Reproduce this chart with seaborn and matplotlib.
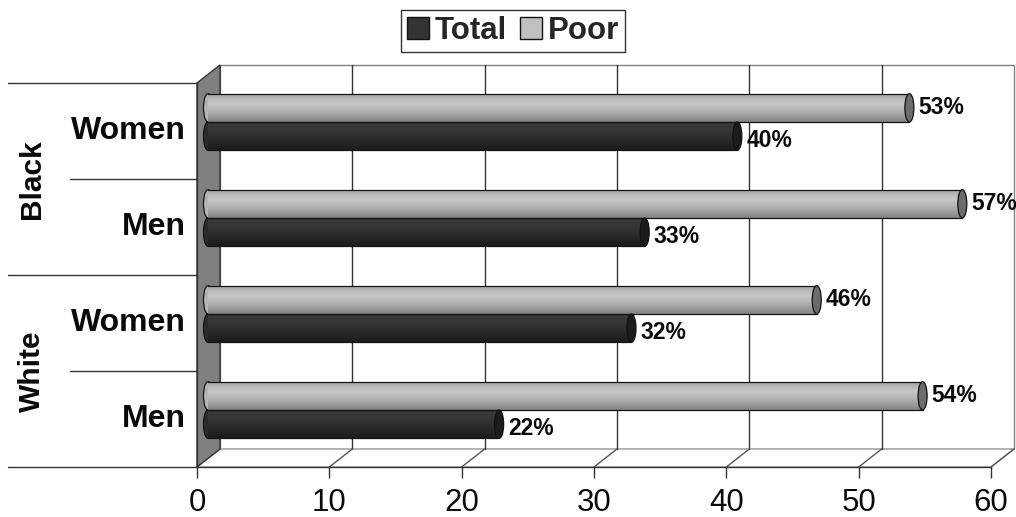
import numpy as np
import pandas as pd
import seaborn as sns
import matplotlib
matplotlib.use("Agg")
import matplotlib.pyplot as plt
from matplotlib import transforms
from matplotlib.patches import Polygon, Ellipse, Rectangle, Patch
from matplotlib.colors import LinearSegmentedColormap

# --- data -------------------------------------------------------------
row_groups = ["Black", "Black", "White", "White"]
rows = ["Women", "Men", "Women", "Men"]
total = [40, 33, 32, 22]
poor = [53, 57, 46, 54]
series = ["Total", "Poor"]
xticks = [0, 10, 20, 30, 40, 50, 60]

keys = [f"{g} {r}" for g, r in zip(row_groups, rows)]
df = pd.DataFrame({
    "row": keys * 2,
    "value": total + poor,
    "series": ["Total"] * len(keys) + ["Poor"] * len(keys),
})

# --- style ------------------------------------------------------------
sns.set_style("white")
plt.rcParams["font.family"] = ["Liberation Sans", "DejaVu Sans"]

W, H, DPI = 1016, 517, 100
fig = plt.figure(figsize=(W / DPI, H / DPI), dpi=DPI)
L, R, T, B = 197, 991, 83, 467          # front face of the plot box, pixels
ax = fig.add_axes([L / W, 1 - B / H, (R - L) / W, (B - T) / H])
ax.patch.set_alpha(0)

colors = {"Poor": "#bdbdbd", "Total": "#333333"}
sns.barplot(data=df, y="row", x="value", hue="series", hue_order=["Poor", "Total"],
            order=keys, orient="h", width=0.59, palette=colors, legend=False,
            ax=ax, zorder=6)
ax.set_xlim(0, 60)
ax.set_ylim(3.5, -0.5)

# pixel scale of the data, used for the pseudo-3D depth
ppx = (R - L) / 60.0
ppy = (B - T) / 4.0
DX = 23 / ppx            # depth shift of the back wall, right
DY = 18 / ppy            # depth shift of the back wall, up
mid = ax.transData + transforms.ScaledTranslation(11 / DPI, 9 / DPI, fig.dpi_scale_trans)

# back wall with gridlines
ax.add_patch(Rectangle((DX, -0.5 - DY), 60, 4, facecolor="white", edgecolor="#808080",
                       lw=1, zorder=1, clip_on=False))
for x in xticks[1:-1]:
    ax.plot([x + DX, x + DX], [-0.5 - DY, 3.5 - DY], color="#333333", lw=1,
            zorder=2, clip_on=False)

# floor
ax.add_patch(Polygon([(0, 3.5), (60, 3.5), (60 + DX, 3.5 - DY), (DX, 3.5 - DY)],
                     closed=True, facecolor="white", edgecolor="#9a9a9a", lw=1,
                     zorder=1.5, clip_on=False))
for x in xticks[1:]:
    ax.plot([x, x + DX], [3.5, 3.5 - DY], color="#555555", lw=1, zorder=2, clip_on=False)

# side wall
ax.add_patch(Polygon([(0, -0.5), (DX, -0.5 - DY), (DX, 3.5 - DY), (0, 3.5)],
                     closed=True, facecolor="#808080", edgecolor="#333333", lw=1,
                     zorder=3, clip_on=False))

# cylinder shading
shades = {
    "Poor": LinearSegmentedColormap.from_list(
        "poor", [(0, "#a4a4a4"), (0.35, "#c8c8c8"), (0.6, "#b4b4b4"), (1, "#838383")]),
    "Total": LinearSegmentedColormap.from_list(
        "total", [(0, "#3c3c3c"), (0.4, "#333333"), (1, "#1c1c1c")]),
}
caps = {"Poor": "#6c6c6c", "Total": "#1c1c1c"}
grad = np.linspace(0, 1, 64).reshape(-1, 1)
capw = 9 / ppx

for level, container in zip(["Poor", "Total"], ax.containers):
    for bar in container:
        x0, y0 = bar.get_x(), bar.get_y()
        w, h = bar.get_width(), bar.get_height()
        yc = y0 + h / 2
        bar.set_transform(mid)
        bar.set_facecolor("none")
        bar.set_edgecolor("none")
        # rounded start of the cylinder
        ax.add_patch(Ellipse((x0, yc), capw, h, transform=mid, facecolor=shades[level](0.6),
                             edgecolor="#151515", lw=0.9, zorder=5, clip_on=False))
        im = ax.imshow(grad, cmap=shades[level], aspect="auto", interpolation="bilinear",
                       extent=(x0, x0 + w, y0 + h, y0), zorder=5.5)
        im.set_transform(mid)
        im.set_clip_path(bar)
        for yy in (y0, y0 + h):
            ax.plot([x0, x0 + w], [yy, yy], transform=mid, color="#151515", lw=0.9,
                    zorder=6.5, clip_on=False)
        ax.add_patch(Ellipse((x0 + w, yc), capw, h, transform=mid, facecolor=caps[level],
                             edgecolor="#111111", lw=0.9, zorder=7, clip_on=False))
        ax.annotate(f"{w:.0f}%", xy=(x0 + w, yc), xycoords=mid,
                    xytext=(9, 0 if level == "Poor" else -4), textcoords="offset pixels",
                    ha="left", va="center", fontsize=16.5, fontweight="bold",
                    color="#0a0a0a", annotation_clip=False, zorder=8)

ax.set_xlim(0, 60)
ax.set_ylim(3.5, -0.5)

# axes, ticks
ax.set_xticks(xticks)
ax.set_xticklabels([str(t) for t in xticks])
ax.set_yticks([])
ax.set_xlabel("")
ax.set_ylabel("")
ax.tick_params(axis="x", bottom=True, length=8, width=1, color="#333333",
               labelsize=22.5, pad=7, labelcolor="#0a0a0a")
for side in ("top", "right"):
    ax.spines[side].set_visible(False)
for side in ("left", "bottom"):
    ax.spines[side].set_color("#333333")
    ax.spines[side].set_linewidth(1)
    ax.spines[side].set_zorder(4)

# category labels and separators on the left
xl_far = (8 - L) / ppx
xl_near = (70 - L) / ppx
for i, r in enumerate(rows):
    ax.text(-11 / ppx, i, r, ha="right", va="center", fontsize=23, fontweight="bold",
            color="#0a0a0a")
for y in (-0.5, 0.5, 1.5, 2.5, 3.5):
    start = xl_far if y in (-0.5, 1.5, 3.5) else xl_near
    ax.plot([start, 0], [y, y], color="#333333", lw=1, clip_on=False, zorder=4)
for j, g in enumerate(dict.fromkeys(row_groups)):
    ax.text((32 - L) / ppx, 2 * j + 0.5, g, rotation=90, ha="center", va="center",
            fontsize=21.5, fontweight="bold", color="#0a0a0a")

# legend
handles = [Patch(facecolor="#333333", edgecolor="#111111"),
           Patch(facecolor="#c0c0c0", edgecolor="#111111")]
leg = fig.legend(handles=handles, labels=series, loc="center",
                 bbox_to_anchor=(513 / W, 1 - 31 / H), ncol=2,
                 prop={"weight": "bold", "size": 22.5}, handlelength=0.7,
                 handleheight=0.7, handletextpad=0.2, columnspacing=0.4,
                 borderpad=0.2, borderaxespad=0, frameon=True, fancybox=False,
                 edgecolor="#333333", framealpha=1)
leg.get_frame().set_linewidth(1)

fig.savefig("out.png", dpi=DPI)
